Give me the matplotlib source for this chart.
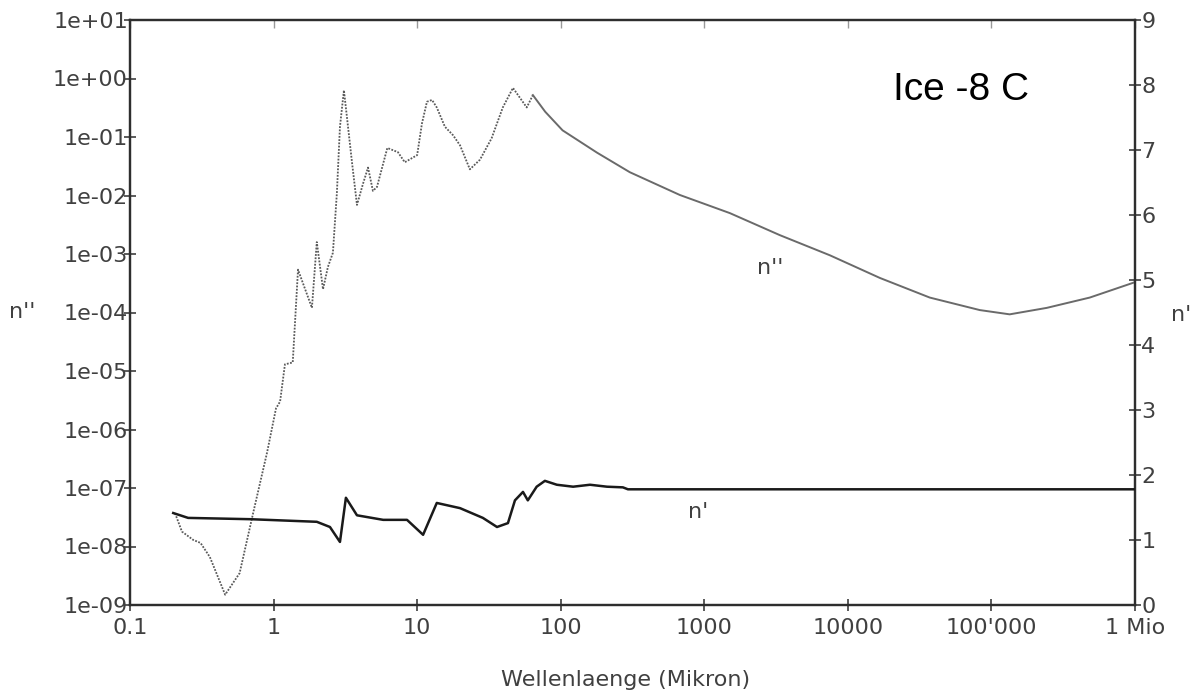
import matplotlib
matplotlib.use("Agg")
import matplotlib.pyplot as plt
from matplotlib.ticker import NullLocator, FixedLocator, FixedFormatter
import numpy as np

# Imaginary part n'' of the refractive index of ice (-8 C) versus wavelength in micron
wl_k = [0.206, 0.23, 0.275, 0.31, 0.36, 0.46, 0.58, 0.72, 0.90, 1.04, 1.11, 1.2, 1.36,
        1.48, 1.85, 2.0, 2.21, 2.39, 2.59, 2.76, 2.9, 3.09, 3.3, 3.5, 3.81, 4.2, 4.55,
        4.92, 5.25, 6.2, 7.35, 8.2, 10.0, 10.8, 11.7, 12.7, 13.7, 15.6, 17.8, 19.9,
        23.3, 27.4, 33.0, 39.5, 46.5, 58.0, 64.0, 78.0, 103, 179, 303, 676, 1507, 3360,
        7500, 16700, 37200, 83000, 134000, 243000, 484000, 1000000]
n_imag = [3.7e-8, 1.8e-8, 1.3e-8, 1.15e-8, 6.6e-9, 1.5e-9, 3.5e-9, 3.7e-8, 4.0e-7,
          2.3e-6, 3.0e-6, 1.3e-5, 1.4e-5, 5.4e-4, 1.2e-4, 1.6e-3, 2.5e-4, 6.0e-4,
          1.05e-3, 1.1e-2, 0.15, 0.63, 0.15, 0.041, 6.9e-3, 0.016, 0.03, 0.012, 0.014,
          0.065, 0.055, 0.037, 0.049, 0.17, 0.40, 0.43, 0.32, 0.15, 0.107, 0.072,
          0.028, 0.041, 0.095, 0.32, 0.69, 0.32, 0.52, 0.27, 0.13, 0.054, 0.025,
          0.0102, 5.0e-3, 2.1e-3, 9.5e-4, 3.9e-4, 1.8e-4, 1.1e-4, 9.3e-5, 1.2e-4,
          1.8e-4, 3.3e-4]

# Real part n' of the refractive index
wl_n = [0.20, 0.254, 0.69, 2.0, 2.47, 2.9, 3.19, 3.81, 5.8, 8.5, 11.0, 13.7, 19.9,
        28.7, 36.0, 42.9, 48.0, 54.6, 59.0, 68.0, 77.6, 94.0, 122, 160, 210, 271, 294,
        1000000]
n_real = [1.415, 1.34, 1.32, 1.28, 1.20, 0.97, 1.65, 1.38, 1.31, 1.31, 1.08, 1.57,
          1.49, 1.34, 1.20, 1.26, 1.61, 1.74, 1.61, 1.82, 1.91, 1.85, 1.82, 1.85,
          1.82, 1.81, 1.78, 1.78]

x_ticks = [0.1, 1, 10, 100, 1000, 10000, 100000, 1000000]
x_tick_labels = ["0.1", "1", "10", "100", "1000", "10000", "100'000", "1 Mio"]
y_ticks = [1e-9, 1e-8, 1e-7, 1e-6, 1e-5, 1e-4, 1e-3, 1e-2, 1e-1, 1e0, 1e1]
y_tick_labels = ["1e-09", "1e-08", "1e-07", "1e-06", "1e-05", "1e-04", "1e-03",
                 "1e-02", "1e-01", "1e+00", "1e+01"]
y2_ticks = list(range(0, 10))

TXT = "#404040"
AX = "#2e2e2e"
plt.rcParams["font.family"] = ["DejaVu Sans"]

fig = plt.figure(figsize=(11.99, 6.93), dpi=100)
ax = fig.add_axes([130 / 1199, 1 - 605 / 693, 1005 / 1199, 585 / 693])
ax.set_xscale("log")
ax.set_yscale("log")
ax.set_xlim(0.1, 1e6)
ax.set_ylim(1e-9, 1e1)

wl_k_arr = np.array(wl_k)
nk_arr = np.array(n_imag)
# dotted in the absorption band region, thin solid for the long-wave tail
band = wl_k_arr <= 66
ax.plot(wl_k_arr[band], nk_arr[band], color="#5a5a5a", lw=1.3,
        linestyle=(0, (1, 0.8)), zorder=3)
tail = wl_k_arr >= 64
ax.plot(wl_k_arr[tail], nk_arr[tail], color="#6a6a6a", lw=1.4, zorder=3)

ax2 = ax.twinx()
ax2.set_ylim(0, 9)
ax2.plot(wl_n, n_real, color="#1a1a1a", lw=1.8, zorder=4)
ax2.set_yticks(y2_ticks)
ax2.yaxis.set_minor_locator(NullLocator())
ax2.tick_params(axis="y", direction="inout", length=9, width=1.1, color=AX,
                labelsize=16, labelcolor=TXT, pad=0)

# shared wavelength axis: fixed decade ticks with plain labels
ax.xaxis.set_major_locator(FixedLocator(x_ticks))
ax.xaxis.set_major_formatter(FixedFormatter(x_tick_labels))
ax.xaxis.set_minor_locator(NullLocator())
ax.yaxis.set_major_locator(FixedLocator(y_ticks))
ax.yaxis.set_major_formatter(FixedFormatter(y_tick_labels))
ax.yaxis.set_minor_locator(NullLocator())
ax.tick_params(axis="both", direction="inout", length=9, width=1.1, color=AX,
               labelsize=16, labelcolor=TXT)
ax.tick_params(axis="y", pad=-3)
ax.tick_params(axis="x", pad=5)
ax.set_xlim(0.1, 1e6)

for a in (ax, ax2):
    for s in a.spines.values():
        s.set_color(AX)
        s.set_linewidth(1.6)

# faint inward ticks along the top edge
top = ax.secondary_xaxis("top")
top.xaxis.set_major_locator(FixedLocator(x_ticks))
top.xaxis.set_minor_locator(NullLocator())
top.tick_params(direction="in", length=6, width=1.0, color="#999999", labeltop=False)
top.spines["top"].set_visible(False)

ax.text(0.759, 0.863, "Ice -8 C", transform=ax.transAxes, fontsize=28,
        family=["Liberation Sans", "DejaVu Sans"], color="black", va="baseline")
ax.text(0.637, 0.576, "n''", transform=ax.transAxes, fontsize=16, color=TXT,
        ha="center", va="center")
ax.text(0.565, 0.159, "n'", transform=ax.transAxes, fontsize=16, color=TXT,
        ha="center", va="center")

fig.text(22 / 1199, 1 - 312 / 693, "n''", fontsize=16, color=TXT, ha="center", va="center")
fig.text(1181 / 1199, 1 - 315 / 693, "n'", fontsize=16, color=TXT, ha="center", va="center")
fig.text(626 / 1199, 1 - 680 / 693, "Wellenlaenge (Mikron)", fontsize=16, color=TXT,
         ha="center", va="center")

fig.savefig("out.png", dpi=100)
